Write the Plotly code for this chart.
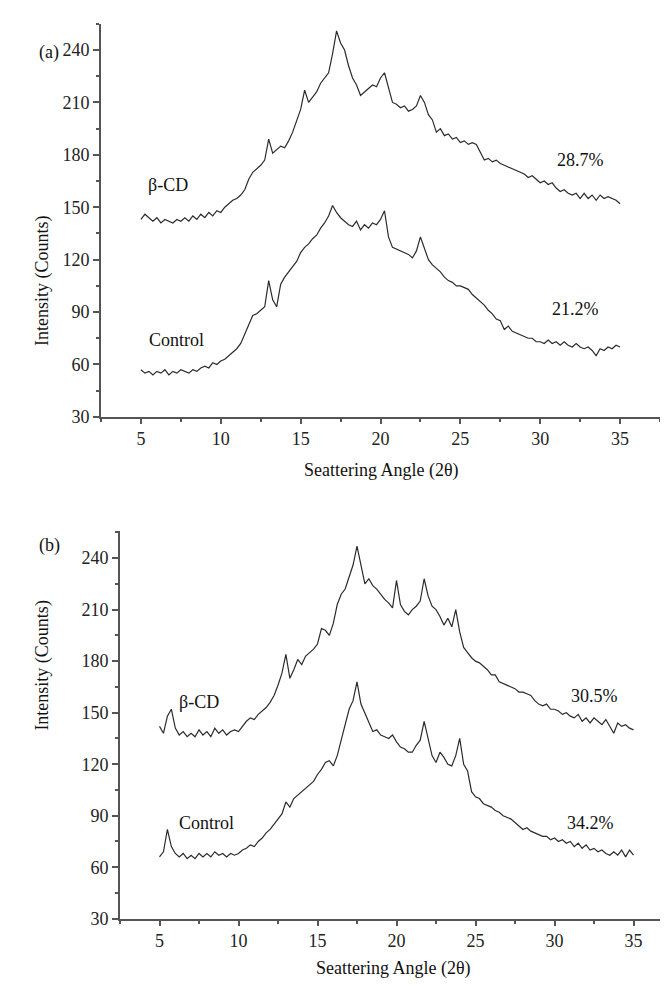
import plotly.graph_objects as go

# Scattering angle grid (2θ), 0.25° steps from 5 to 35
angle = [5 + 0.25 * i for i in range(121)]

# Panel (a)
a_bcd = [143, 146, 144, 142, 144, 141, 143, 142, 141, 143, 142, 144, 142, 145, 143, 146,
         144, 147, 145, 148, 147, 150, 152, 154, 155, 157, 160, 166, 170, 172, 174, 177,
         189, 181, 183, 185, 184, 188, 193, 199, 206, 217, 210, 213, 216, 221, 224, 227,
         238, 251, 244, 240, 231, 224, 220, 214, 216, 218, 220, 219, 224, 227, 218, 210,
         209, 207, 208, 205, 206, 208, 214, 210, 203, 200, 193, 195, 191, 192, 189, 190,
         187, 188, 186, 187, 186, 181, 177, 178, 176, 177, 175, 174, 173, 172, 171, 170,
         169, 167, 168, 166, 164, 165, 163, 164, 161, 159, 160, 158, 157, 158, 155, 158,
         155, 157, 154, 157, 155, 156, 155, 154, 152]
a_control = [57, 55, 56, 54, 56, 55, 57, 54, 56, 55, 57, 56, 55, 57, 56, 58,
             59, 58, 61, 60, 62, 63, 65, 67, 69, 72, 77, 83, 88, 89, 91, 93,
             108, 97, 93, 106, 110, 113, 116, 119, 124, 127, 129, 132, 134, 138, 141, 145,
             151, 147, 144, 142, 140, 139, 142, 137, 140, 138, 141, 140, 143, 148, 133, 127,
             126, 125, 124, 123, 121, 125, 133, 126, 120, 117, 115, 113, 110, 108, 107, 105,
             105, 104, 103, 100, 98, 96, 94, 91, 89, 86, 85, 80, 82, 79, 78, 77,
             76, 75, 75, 73, 73, 72, 74, 72, 73, 71, 73, 71, 70, 72, 70, 69,
             70, 68, 65, 69, 68, 70, 69, 71, 70]

# Panel (b)
b_bcd = [142, 138, 148, 152, 141, 137, 139, 136, 138, 136, 140, 137, 139, 136, 141, 138,
         140, 137, 139, 140, 139, 142, 145, 147, 146, 149, 151, 153, 156, 160, 166, 173,
         184, 170, 175, 181, 178, 183, 185, 187, 190, 199, 198, 195, 202, 213, 219, 222,
         229, 236, 247, 236, 225, 228, 224, 222, 219, 216, 214, 211, 227, 213, 209, 207,
         210, 212, 215, 228, 218, 212, 210, 206, 201, 205, 200, 210, 197, 188, 185, 182,
         180, 179, 177, 175, 172, 172, 168, 167, 166, 165, 164, 162, 162, 161, 160, 157,
         155, 154, 155, 152, 152, 151, 149, 150, 148, 147, 149, 145, 147, 144, 147, 145,
         143, 146, 142, 138, 144, 142, 143, 141, 140]
b_control = [66, 69, 82, 72, 68, 66, 68, 65, 67, 65, 68, 66, 68, 66, 69, 67,
             68, 66, 68, 67, 68, 70, 71, 73, 72, 75, 77, 80, 82, 85, 88, 91,
             98, 95, 100, 102, 104, 106, 108, 110, 114, 117, 121, 122, 119, 125, 134, 143,
             152, 157, 168, 155, 150, 145, 139, 140, 137, 136, 135, 137, 133, 130, 129, 127,
             127, 131, 134, 145, 134, 125, 121, 127, 124, 120, 119, 125, 135, 120, 116, 104,
             101, 100, 97, 96, 95, 93, 92, 90, 89, 88, 86, 84, 82, 83, 81, 80,
             79, 78, 78, 76, 77, 75, 76, 74, 75, 72, 74, 71, 73, 70, 71, 69,
             70, 68, 67, 69, 67, 70, 66, 70, 67]

x_ticks = [5, 10, 15, 20, 25, 30, 35]
y_ticks = [30, 60, 90, 120, 150, 180, 210, 240]

FONT = "Liberation Serif"
LINE = "#2b2b2b"
AXIS = "#555555"
FS = 18

fig = go.Figure()
for ys, xa, ya in [(a_bcd, "x", "y"), (a_control, "x", "y"),
                   (b_bcd, "x2", "y2"), (b_control, "x2", "y2")]:
    fig.add_trace(go.Scatter(x=angle, y=ys, mode="lines", xaxis=xa, yaxis=ya,
                             line=dict(color=LINE, width=1.2), showlegend=False,
                             hoverinfo="skip"))

W, H = 668, 992

def xax(domain):
    return dict(domain=domain, range=[2.5, 37.5], tickvals=x_ticks,
                ticktext=[str(v) for v in x_ticks],
                showline=True, linecolor=AXIS, linewidth=2, ticks="outside",
                ticklen=5, tickwidth=2, tickcolor=AXIS, showgrid=False, zeroline=False,
                tickfont=dict(family=FONT, size=FS, color="#222"),
                minor=dict(ticks="outside", ticklen=3, tickwidth=1.5, tickcolor=AXIS,
                           tickvals=[2.5, 7.5, 12.5, 17.5, 22.5, 27.5, 32.5, 37.5]),
                fixedrange=True)

def yax(domain, top, anchor):
    return dict(domain=domain, range=[30, top], tickvals=y_ticks,
                ticktext=[str(v) for v in y_ticks], anchor=anchor,
                showline=True, linecolor=AXIS, linewidth=2, ticks="outside",
                ticklen=6, tickwidth=2, tickcolor=AXIS, showgrid=False, zeroline=False,
                tickfont=dict(family=FONT, size=FS, color="#222"),
                minor=dict(ticks="outside", ticklen=3, tickwidth=1.5, tickcolor=AXIS,
                           tickvals=[45, 75, 105, 135, 165, 195, 225, 255]),
                fixedrange=True)

fig.update_layout(
    width=W, height=H, margin=dict(l=0, r=0, t=0, b=0),
    paper_bgcolor="white", plot_bgcolor="white",
    xaxis=dict(**xax([93 / W, 652 / W]), anchor="y"),
    yaxis=yax([1 - 413 / H, 1 - 16 / H], 255, "x"),
    xaxis2=dict(**xax([112 / W, 665 / W]), anchor="y2"),
    yaxis2=yax([1 - 920 / H, 1 - 528 / H], 256, "x2"),
)

def txt(text, x, y, xref, yref, size=FS, **kw):
    fig.add_annotation(text=text, x=x, y=y, xref=xref, yref=yref, showarrow=False,
                       font=dict(family=FONT, size=size, color="#111"), **kw)

# curve labels (data coordinates)
txt("β-CD", 6.7, 163, "x", "y")
txt("28.7%", 32.5, 177, "x", "y")
txt("Control", 7.2, 74, "x", "y")
txt("21.2%", 32.2, 92, "x", "y")
txt("β-CD", 7.5, 156, "x2", "y2")
txt("30.5%", 32.5, 160, "x2", "y2")
txt("Control", 8.0, 86, "x2", "y2")
txt("34.2%", 32.3, 86, "x2", "y2")

# panel letters and axis titles (paper coordinates)
txt("(a)", 29 / W, 1 - 32 / H, "paper", "paper")
txt("(b)", 29 / W, 1 - 543 / H, "paper", "paper")
txt("Seattering Angle (2θ)", 373 / W, 1 - 467 / H, "paper", "paper")
txt("Seattering Angle (2θ)", 386 / W, 1 - 983 / H, "paper", "paper")
txt("Intensity (Counts)", 22 / W, 1 - 207 / H, "paper", "paper", textangle=-90)
txt("Intensity (Counts)", 22 / W, 1 - 732 / H, "paper", "paper", textangle=-90)

fig.write_html("out.html")
